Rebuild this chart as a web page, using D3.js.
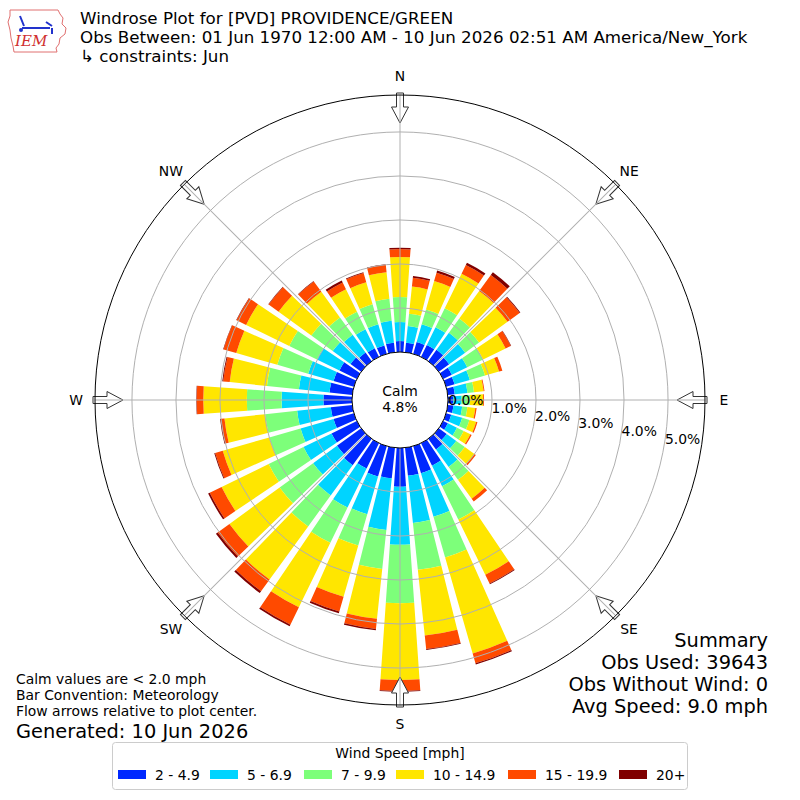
<!DOCTYPE html>
<html>
<head>
<meta charset="utf-8">
<script src="https://cdn.jsdelivr.net/npm/d3@7/dist/d3.min.js"></script>
<style>
  body { margin: 0; background: #fff; }
  svg { font-family: "DejaVu Sans", sans-serif; }
</style>
</head>
<body>
<div id="chart"></div>
<script>
// direction bins (degrees, meteorological convention)
const directions = [0, 10, 20, 30, 40, 50, 60, 70, 80, 90, 100, 110, 120, 130, 140, 150, 160, 170,
  180, 190, 200, 210, 220, 230, 240, 250, 260, 270, 280, 290, 300, 310, 320, 330, 340, 350];

const speedBins = ["2 - 4.9", "5 - 6.9", "7 - 9.9", "10 - 14.9", "15 - 19.9", "20+"];
const binColors = ["#0028ff", "#00d4ff", "#7dff7a", "#ffe600", "#ff4a00", "#800000"];

// frequency (%) per direction for each speed bin
const speed2to5 = [0.25, 0.22, 0.28, 0.30, 0.32, 0.29, 0.22, 0.20, 0.16, 0.12, 0.13, 0.12, 0.12, 0.22, 0.30, 0.57, 0.64, 0.64,
  0.88, 0.70, 0.72, 0.64, 0.74, 0.68, 0.64, 0.48, 0.49, 0.65, 0.52, 0.48, 0.44, 0.30, 0.24, 0.22, 0.20, 0.22];
const speed5to7 = [0.43, 0.38, 0.42, 0.45, 0.48, 0.45, 0.39, 0.36, 0.29, 0.19, 0.20, 0.26, 0.23, 0.27, 0.49, 0.52, 1.03, 1.08,
  1.32, 1.18, 0.89, 0.99, 0.85, 0.67, 0.71, 0.78, 0.77, 0.95, 0.70, 0.60, 0.57, 0.50, 0.50, 0.48, 0.50, 0.50];
const speed7to10 = [0.57, 0.28, 0.35, 0.48, 0.40, 0.39, 0.40, 0.36, 0.15, 0.19, 0.12, 0.17, 0.17, 0.24, 0.36, 0.84, 0.96, 1.07,
  1.33, 0.89, 0.74, 0.89, 0.87, 0.94, 0.88, 0.74, 0.73, 0.79, 0.73, 0.73, 0.70, 0.60, 0.49, 0.44, 0.47, 0.50];
const speed10to15 = [0.91, 0.62, 0.67, 0.87, 0.77, 0.80, 0.57, 0.33, 0.22, 0.30, 0.18, 0.16, 0.17, 0.27, 0.53, 1.40, 2.27, 1.50,
  1.74, 1.14, 1.21, 1.63, 1.49, 1.41, 1.19, 1.10, 0.93, 0.99, 0.85, 0.97, 1.09, 0.92, 0.72, 0.57, 0.52, 0.61];
const speed15to20 = [0.18, 0.20, 0.20, 0.22, 0.45, 0.34, 0.13, 0.08, 0.02, 0.02, 0.03, 0.03, 0.03, 0.04, 0.08, 0.22, 0.23, 0.31,
  0.25, 0.23, 0.35, 0.44, 0.33, 0.33, 0.30, 0.18, 0.08, 0.15, 0.15, 0.30, 0.24, 0.28, 0.29, 0.17, 0.22, 0.17];
const speed20plus = [0.03, 0.04, 0.05, 0.06, 0.08, 0.02, 0.01, 0, 0, 0, 0, 0, 0, 0, 0, 0.02, 0.03, 0.02,
  0.02, 0.03, 0.04, 0.04, 0.05, 0.05, 0.04, 0.02, 0.02, 0.01, 0.02, 0.01, 0.01, 0.01, 0.01, 0.05, 0.02, 0.01];

const ringTicks = [0, 1, 2, 3, 4, 5];
const compassLabels = ["N", "NE", "E", "SE", "S", "SW", "W", "NW"];
const compassAngles = [0, 45, 90, 135, 180, 225, 270, 315];
const calmPct = 4.8;

const titleLines = [
  "Windrose Plot for [PVD] PROVIDENCE/GREEN",
  "Obs Between: 01 Jun 1970 12:00 AM - 10 Jun 2026 02:51 AM America/New_York",
  " \u21B3 constraints: Jun",
];
const noteLines = [
  "Calm values are < 2.0 mph",
  "Bar Convention: Meteorology",
  "Flow arrows relative to plot center.",
];
const summaryLines = ["Summary", "Obs Used: 39643", "Obs Without Wind: 0", "Avg Speed: 9.0 mph"];

function drawRose() {
  let dimensions = {
    width: 800,
    height: 800,
    cx: 400,
    cy: 400,
    calmRadius: 48,
    outerRadius: 305,
  };
  const small = 13.9; // 10pt
  const big = 19.4; // 14pt

  const rad = (deg) => (deg * Math.PI) / 180;
  const keys = ["b0", "b1", "b2", "b3", "b4", "b5"];
  const series = [speed2to5, speed5to7, speed7to10, speed10to15, speed15to20, speed20plus];
  const rows = directions.map((dir, i) => {
    let row = { dir: dir };
    keys.forEach((k, j) => (row[k] = series[j][i]));
    return row;
  });
  const stacked = d3.stack().keys(keys)(rows);

  const rScale = d3
    .scaleLinear()
    .domain([0, 5.84])
    .range([dimensions.calmRadius, dimensions.outerRadius]);
  const colorScale = d3.scaleOrdinal().domain(keys).range(binColors);

  const wrapper = d3
    .select("#chart")
    .append("svg")
    .attr("width", dimensions.width)
    .attr("height", dimensions.height);

  // IEM logo (rough)
  const logo = wrapper.append("g").attr("transform", "translate(8,8)");
  logo
    .append("path")
    .attr("d", "M2,2 L50,2 L52,6 L55,10 L54,16 L58,20 L57,26 L52,30 L51,36 L48,40 L49,44 L6,44 L5,38 L3,30 L2,22 L0,14 L2,8 Z")
    .attr("fill", "white")
    .attr("stroke", "#e07070")
    .attr("stroke-width", 1);
  logo.append("path").attr("d", "M14,20 L42,20").attr("stroke", "#2233cc").attr("stroke-width", 2);
  logo.append("path").attr("d", "M12,8 L16,18 M38,14 L44,18 M44,20 L44,26").attr("stroke", "#2233cc").attr("stroke-width", 2).attr("fill", "none");
  logo.append("circle").attr("cx", 13).attr("cy", 22).attr("r", 2).attr("fill", "#2233cc");
  logo
    .append("text")
    .attr("x", 7)
    .attr("y", 38)
    .attr("font-family", "DejaVu Serif, serif")
    .attr("font-style", "italic")
    .attr("font-size", 15)
    .attr("fill", "#d03030")
    .text("IEM");

  // title
  wrapper
    .append("g")
    .selectAll("text")
    .data(titleLines)
    .join("text")
    .attr("x", 80)
    .attr("y", (d, i) => 24 + i * 19)
    .attr("font-size", 16.7)
    .text((d) => d);

  const rose = wrapper
    .append("g")
    .attr("transform", `translate(${dimensions.cx},${dimensions.cy})`);

  // bars
  const arc = d3
    .arc()
    .innerRadius((d) => rScale(d[0]))
    .outerRadius((d) => rScale(d[1]))
    .startAngle((d) => rad(d.data.dir - 4))
    .endAngle((d) => rad(d.data.dir + 4));

  rose
    .append("g")
    .selectAll("g")
    .data(stacked)
    .join("g")
    .attr("fill", (d) => colorScale(d.key))
    .selectAll("path")
    .data((d) => d)
    .join("path")
    .attr("d", arc);

  // flow arrows
  rose
    .append("g")
    .selectAll("path")
    .data(compassAngles)
    .join("path")
    .attr("transform", (d) => `rotate(${d})`)
    .attr("d", "M-3.5,-307 L3.5,-307 L3.5,-293 L8.5,-293 L0,-277 L-8.5,-293 L-3.5,-293 Z")
    .attr("fill", "white")
    .attr("stroke", "#333")
    .attr("stroke-width", 1);

  // grid
  const grid = rose.append("g").attr("stroke", "#b0b0b0").attr("fill", "none").attr("stroke-width", 1);
  grid
    .selectAll("circle")
    .data(ringTicks.filter((d) => d > 0))
    .join("circle")
    .attr("r", (d) => rScale(d));
  grid
    .selectAll("line")
    .data(compassAngles)
    .join("line")
    .attr("x1", 0)
    .attr("y1", -dimensions.calmRadius)
    .attr("x2", 0)
    .attr("y2", -dimensions.outerRadius)
    .attr("transform", (d) => `rotate(${d})`);

  rose
    .append("circle")
    .attr("r", dimensions.outerRadius)
    .attr("fill", "none")
    .attr("stroke", "black")
    .attr("stroke-width", 1);

  // calm circle
  rose
    .append("circle")
    .attr("r", rScale(0))
    .attr("fill", "white")
    .attr("stroke", "black")
    .attr("stroke-width", 1);
  rose
    .append("text")
    .attr("text-anchor", "middle")
    .attr("font-size", small)
    .selectAll("tspan")
    .data(["Calm", calmPct.toFixed(1) + "%"])
    .join("tspan")
    .attr("x", 0)
    .attr("y", (d, i) => -4 + i * 16)
    .text((d) => d);

  // ring labels, 10 deg below east
  const labelAngle = rad(100);
  rose
    .append("g")
    .selectAll("text")
    .data(ringTicks)
    .join("text")
    .attr("x", (d) => rScale(d) * Math.sin(labelAngle) + 1)
    .attr("y", (d) => -rScale(d) * Math.cos(labelAngle) - 3)
    .attr("font-size", small)
    .text((d) => d.toFixed(1) + "%");

  // compass labels
  rose
    .append("g")
    .selectAll("text")
    .data(compassLabels)
    .join("text")
    .attr("x", (d, i) => 324 * Math.sin(rad(compassAngles[i])))
    .attr("y", (d, i) => -324 * Math.cos(rad(compassAngles[i])))
    .attr("text-anchor", "middle")
    .attr("dominant-baseline", "central")
    .attr("font-size", small)
    .text((d) => d);

  // notes
  wrapper
    .append("g")
    .selectAll("text")
    .data(noteLines)
    .join("text")
    .attr("x", 16)
    .attr("y", (d, i) => 684 + i * 16)
    .attr("font-size", small)
    .text((d) => d);
  wrapper
    .append("text")
    .attr("x", 16)
    .attr("y", 738)
    .attr("font-size", big)
    .text("Generated: 10 Jun 2026");

  wrapper
    .append("g")
    .selectAll("text")
    .data(summaryLines)
    .join("text")
    .attr("x", 768)
    .attr("y", (d, i) => 647 + i * 22)
    .attr("text-anchor", "end")
    .attr("font-size", big)
    .text((d) => d);

  // legend
  const legend = wrapper.append("g");
  legend
    .append("rect")
    .attr("x", 112.5)
    .attr("y", 742.5)
    .attr("width", 575)
    .attr("height", 47)
    .attr("rx", 3)
    .attr("fill", "white")
    .attr("stroke", "#cccccc");
  legend
    .append("text")
    .attr("x", 400)
    .attr("y", 758)
    .attr("text-anchor", "middle")
    .attr("font-size", small)
    .text("Wind Speed [mph]");
  const legendX = [118, 210, 304, 396, 508, 619];
  const items = legend
    .selectAll("g.item")
    .data(speedBins)
    .join("g")
    .attr("class", "item")
    .attr("transform", (d, i) => `translate(${legendX[i]},770)`);
  items
    .append("rect")
    .attr("width", 28)
    .attr("height", 9)
    .attr("fill", (d, i) => binColors[i]);
  items
    .append("text")
    .attr("x", 37)
    .attr("y", 9.5)
    .attr("font-size", small)
    .text((d) => d);
}

drawRose();
</script>
</body>
</html>
